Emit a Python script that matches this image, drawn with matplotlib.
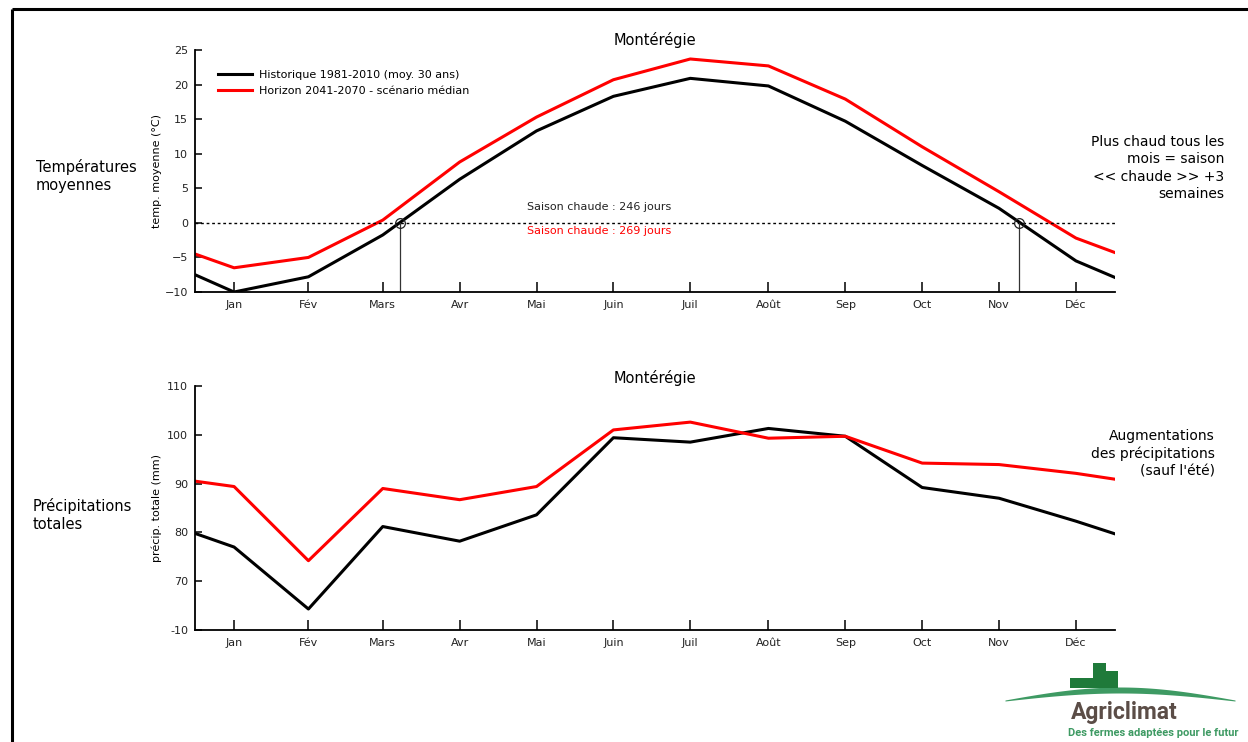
import numpy as np
import matplotlib.pyplot as plt
from matplotlib.patches import Rectangle

mois = ['Jan', 'Fév', 'Mars', 'Avr', 'Mai', 'Juin', 'Juil', 'Août', 'Sep', 'Oct', 'Nov', 'Déc']
mi_mois = [15.5, 45, 74.5, 105, 135.5, 166, 196.5, 227.5, 258, 288.5, 319, 349.5]
jours = [0] + mi_mois + [365]

temp_hist = [-7.5, -10.0, -7.8, -1.75, 6.3, 13.3, 18.3, 20.9, 19.8, 14.7, 8.3, 2.1, -5.5, -7.9]
temp_futur = [-4.5, -6.5, -5.0, 0.4, 8.8, 15.3, 20.7, 23.7, 22.7, 17.9, 11.0, 4.5, -2.2, -4.3]
precip_hist = [79.8, 77.0, 64.3, 81.2, 78.2, 83.6, 99.4, 98.5, 101.3, 99.7, 89.2, 87.0, 82.3, 79.7]
precip_futur = [90.5, 89.4, 74.2, 89.0, 86.7, 89.4, 101.0, 102.6, 99.3, 99.7, 94.2, 93.9, 92.1, 90.9]

saison_debut = 81.5
saison_fin = 327
jours_hist = 246
jours_futur = 269

lab_hist = 'Historique 1981-2010 (moy. 30 ans)'
lab_futur = 'Horizon 2041-2070 - scénario médian'

W, H = 1248, 742
fig = plt.figure(figsize=(W / 100, H / 100), dpi=100)

# decoration layer in pixel coordinates (frame + logo)
deco = fig.add_axes([0, 0, 1, 1])
deco.set_xlim(0, W)
deco.set_ylim(H, 0)
deco.axis('off')
deco.plot([12, W], [9, 9], color='black', lw=2.2, solid_capstyle='butt')
deco.plot([12, 12], [9, H], color='black', lw=2.2, solid_capstyle='butt')

sx = np.linspace(1005, 1235, 200)
arc = np.sin(np.pi * (sx - 1005) / 230)
deco.fill_between(sx, 700 - 13 * arc, 700 - 13 * arc + 1 + 5 * arc, color='#3e9a63', lw=0)
deco.add_patch(Rectangle((1070, 678), 24, 10, color='#1f7a3a', lw=0))
deco.add_patch(Rectangle((1093, 663), 13, 25, color='#1f7a3a', lw=0))
deco.add_patch(Rectangle((1106, 671), 12, 17, color='#1f7a3a', lw=0))
deco.text(1071, 712, 'Agriclimat', fontsize=16.5, fontweight='bold',
          family='Roboto', color='#5b4d47', ha='left', va='center')
deco.text(1068, 733, 'Des fermes adaptées pour le futur', fontsize=8, fontweight='bold',
          family='Roboto', color='#3e9a63', ha='left', va='center')


def style_axe(ax):
    ax.spines['top'].set_visible(False)
    ax.spines['right'].set_visible(False)
    ax.spines['left'].set_linewidth(1.3)
    ax.spines['bottom'].set_linewidth(1.3)
    ax.set_xlim(0, 365)
    ax.set_xticks(mi_mois)
    ax.set_xticklabels(mois)
    ax.tick_params(axis='x', direction='in', length=7, width=1.1, pad=6,
                   labelsize=8, labelcolor='#222222')
    ax.tick_params(axis='y', direction='in', length=5, width=1.1, pad=5,
                   labelsize=8, labelcolor='#222222')
    ax.patch.set_alpha(0)


ax1 = fig.add_axes([195 / W, 1 - 292 / H, 920 / W, 242 / H])
style_axe(ax1)
ax1.plot(jours, temp_hist, color='black', lw=2.2, label=lab_hist)
ax1.plot(jours, temp_futur, color='#ff0000', lw=2.2, label=lab_futur)
ax1.axhline(0, color='black', lw=1, ls=(0, (2, 2)))
for j in [saison_debut, saison_fin]:
    ax1.plot([j, j], [-10, 0], color='#333333', lw=0.9)
    ax1.plot(j, 0, 'o', mfc='none', mec='#222222', ms=7, mew=0.9)
ax1.set_ylim(-10, 25)
ax1.set_yticks(range(-10, 30, 5))
ax1.set_ylabel('temp. moyenne (°C)', fontsize=8)
ax1.yaxis.set_label_coords(-0.036, 0.5)
ax1.text(131.8, 2.3, f'Saison chaude : {jours_hist} jours', fontsize=8, color='#222222', va='center')
ax1.text(131.8, -1.2, f'Saison chaude : {jours_futur} jours', fontsize=8, color='#ff0000', va='center')
ax1.legend(loc='upper left', bbox_to_anchor=(0.025, 0.917), frameon=False, fontsize=8,
           handlelength=3.1, handletextpad=0.55, labelspacing=0.55,
           borderpad=0, borderaxespad=0)

ax2 = fig.add_axes([195 / W, 1 - 630 / H, 920 / W, 244 / H])
style_axe(ax2)
ax2.plot(jours, precip_hist, color='black', lw=2.2)
ax2.plot(jours, precip_futur, color='#ff0000', lw=2.2)
ax2.set_ylim(60, 110)
ax2.set_yticks(range(60, 120, 10))
ax2.set_yticklabels(['-10', '70', '80', '90', '100', '110'])
ax2.set_ylabel('précip. totale (mm)', fontsize=8)
ax2.yaxis.set_label_coords(-0.036, 0.5)

fig.text(655 / W, 1 - 40 / H, 'Montérégie', fontsize=10.5, ha='center', va='center')
fig.text(655 / W, 1 - 378 / H, 'Montérégie', fontsize=10.5, ha='center', va='center')

fig.text(36 / W, 1 - 176 / H, 'Températures\nmoyennes', fontsize=10.5, ha='left', va='center',
         linespacing=1.2)
fig.text(33 / W, 1 - 515 / H, 'Précipitations\ntotales', fontsize=10.5, ha='left', va='center',
         linespacing=1.2)
fig.text(1224 / W, 1 - 168 / H, 'Plus chaud tous les\nmois = saison\n<< chaude >> +3\nsemaines',
         fontsize=10, ha='right', va='center', multialignment='right', linespacing=1.3)
fig.text(1215 / W, 1 - 454 / H, 'Augmentations\ndes précipitations\n(sauf l\'été)',
         fontsize=10, ha='right', va='center', multialignment='right', linespacing=1.3)

fig.savefig('out.png', dpi=100)
